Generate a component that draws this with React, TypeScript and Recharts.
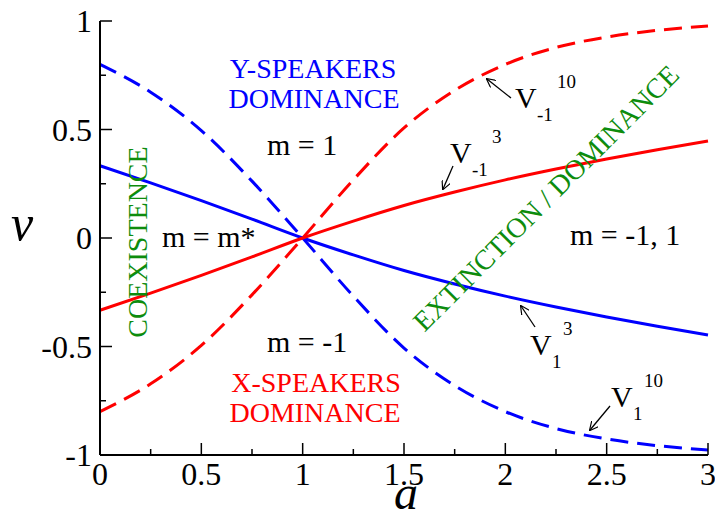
import React, { useEffect, useState } from "react";
import { LineChart, Line, XAxis, YAxis } from "recharts";

const aValues = [0, 0.25, 0.5, 0.75, 1, 1.25, 1.5, 1.75, 2, 2.25, 2.5, 2.75, 3];
const v1Pow3 = [0.333, 0.254, 0.172, 0.087, 0, -0.078, -0.15, -0.212, -0.268, -0.318, -0.364, -0.407, -0.447];
const vm1Pow3 = [-0.333, -0.254, -0.172, -0.087, 0, 0.078, 0.15, 0.212, 0.268, 0.318, 0.364, 0.407, 0.447];
const v1Pow10 = [0.8, 0.672, 0.495, 0.262, 0, -0.268, -0.507, -0.68, -0.8, -0.878, -0.926, -0.957, -0.977];
const vm1Pow10 = [-0.8, -0.672, -0.495, -0.262, 0, 0.268, 0.507, 0.68, 0.8, 0.878, 0.926, 0.957, 0.977];

const xTicks = [0, 0.25, 0.5, 0.75, 1, 1.25, 1.5, 1.75, 2, 2.25, 2.5, 2.75, 3];
const yTicks = [-1, -0.75, -0.5, -0.25, 0, 0.25, 0.5, 0.75, 1];

const data = aValues.map((a, i) => ({
  a,
  v1Pow3: v1Pow3[i],
  vm1Pow3: vm1Pow3[i],
  v1Pow10: v1Pow10[i],
  vm1Pow10: vm1Pow10[i],
}));

const FONT = "Liberation Serif";
const GREEN = "#0d8c0d";
const BLUE = "#0000ff";
const RED = "#ff0000";

const isMajor = (v: number) => Math.abs(v * 2 - Math.round(v * 2)) < 1e-6;

// ticks point into the plot, like the original
const BottomTick = (props: any) => {
  const { x, y, payload } = props;
  const major = isMajor(payload.value);
  return (
    <g>
      <line x1={x} x2={x} y1={y} y2={y - (major ? 12 : 6)} stroke="#000" strokeWidth={1.5} />
      {major && (
        <text x={x} y={y + 30} textAnchor="middle" fontSize={32} fontFamily={FONT} style={{ fontFamily: FONT }} fill="#000">
          {String(payload.value)}
        </text>
      )}
    </g>
  );
};

const LeftTick = (props: any) => {
  const { x, y, payload } = props;
  const major = isMajor(payload.value);
  return (
    <g>
      <line x1={x} x2={x + (major ? 12 : 6)} y1={y} y2={y} stroke="#000" strokeWidth={1.5} />
      {major && (
        <text x={x - 8} y={y + 11} textAnchor="end" fontSize={32} fontFamily={FONT} style={{ fontFamily: FONT }} fill="#000">
          {String(payload.value)}
        </text>
      )}
    </g>
  );
};

const TopTick = (props: any) => {
  const { x, y, payload } = props;
  const len = isMajor(payload.value) ? 12 : 6;
  return <line x1={x} x2={x} y1={y} y2={y + len} stroke="#000" strokeWidth={1.5} />;
};

const RightTick = (props: any) => {
  const { x, y, payload } = props;
  const len = isMajor(payload.value) ? 12 : 6;
  return <line x1={x} x2={x - len} y1={y} y2={y} stroke="#000" strokeWidth={1.5} />;
};

const Arrow = ({ x1, y1, x2, y2 }: { x1: number; y1: number; x2: number; y2: number }) => (
  <line x1={x1} y1={y1} x2={x2} y2={y2} stroke="#000" strokeWidth={1.3} markerEnd="url(#head)" />
);

// serif text helper
const T = (props: any) => <text fontFamily={FONT} style={{ fontFamily: FONT }} {...props} />;

// V with subscript and superscript
const VLabel = ({ x, y, sub, sup }: { x: number; y: number; sub: string; sup: string }) => (
  <g fill="#000">
    <T x={x} y={y} fontSize={30}>V</T>
    <T x={x + 22} y={y + 13} fontSize={19}>{sub}</T>
    <T x={x + (sub.length > 1 ? 42 : 33)} y={y - 20} fontSize={19}>{sup}</T>
  </g>
);

const Annotations = () => (
  <svg width={715} height={519} style={{ position: "absolute", left: 0, top: 0, pointerEvents: "none" }}>
    <defs>
      <marker id="head" viewBox="0 0 10 10" refX="9" refY="5" markerWidth="9" markerHeight="9" orient="auto" markerUnits="userSpaceOnUse">
        <path d="M0,0 L10,5 L0,10" fill="none" stroke="#000" strokeWidth={1.3} />
      </marker>
    </defs>

    <T x={22} y={240} textAnchor="middle" fontSize={50} fontStyle="italic">v</T>
    <T x={406} y={509} textAnchor="middle" fontSize={48} fontStyle="italic">a</T>

    <g fontSize={28} textAnchor="middle">
      <T x={313} y={78} fill={BLUE}>Y-SPEAKERS</T>
      <T x={314} y={108} fill={BLUE}>DOMINANCE</T>
      <T x={316} y={392} fill={RED}>X-SPEAKERS</T>
      <T x={315} y={422} fill={RED}>DOMINANCE</T>
      <T x={137.5} y={242} fill={GREEN} dominantBaseline="central" transform="rotate(-90 137.5 242)">
        COEXISTENCE
      </T>
      <T x={546} y={198} fill={GREEN} dominantBaseline="central" transform="rotate(-45 546 198)">
        EXTINCTION / DOMINANCE
      </T>
    </g>

    <g fontSize={30} fill="#000">
      <T x={267} y={155}>m = 1</T>
      <T x={162} y={247}>m = m*</T>
      <T x={267} y={352}>m = -1</T>
      <T x={570} y={245}>m = -1, 1</T>
    </g>

    <VLabel x={530} y={355} sub="1" sup="3" />
    <Arrow x1={535} y1={327} x2={521} y2={306} />
    <VLabel x={450} y={163} sub="-1" sup="3" />
    <Arrow x1={453} y1={166} x2={443} y2={189} />
    <VLabel x={515} y={108} sub="-1" sup="10" />
    <Arrow x1={511} y1={98} x2={487} y2={79} />
    <VLabel x={611} y={407} sub="1" sup="10" />
    <Arrow x1={610} y1={406} x2={590} y2={430} />
  </svg>
);

export default function App() {
  // remount once the serif face is loaded so text gets re-laid out with it
  const [fontKey, setFontKey] = useState(0);
  useEffect(() => {
    const fonts = (document as any).fonts;
    if (!fonts || !fonts.load) return;
    Promise.all([
      fonts.load(`32px "${FONT}"`),
      fonts.load(`italic 48px "${FONT}"`),
    ])
      .then(() => setFontKey(1))
      .catch(() => {});
  }, []);

  return (
    <div
      key={fontKey}
      style={{ position: "absolute", left: 0, top: 0, width: 715, height: 519, background: "#fff", fontFamily: FONT }}
    >
      <LineChart width={715} height={519} data={data} margin={{ top: 21, right: 7, bottom: 0, left: 0 }}>
        <XAxis
          dataKey="a"
          type="number"
          domain={[0, 3]}
          ticks={xTicks}
          interval={0}
          height={64}
          tickSize={0}
          tickMargin={0}
          tickLine={false}
          tick={<BottomTick />}
          axisLine={{ stroke: "#000", strokeWidth: 2 }}
        />
        <XAxis
          xAxisId="top"
          orientation="top"
          dataKey="a"
          type="number"
          domain={[0, 3]}
          ticks={xTicks}
          interval={0}
          height={0}
          tickSize={0}
          tickMargin={0}
          tickLine={false}
          tick={<TopTick />}
          axisLine={{ stroke: "#000", strokeWidth: 2 }}
        />
        <YAxis
          type="number"
          domain={[-1, 1]}
          ticks={yTicks}
          interval={0}
          width={100}
          tickSize={0}
          tickMargin={0}
          tickLine={false}
          tick={<LeftTick />}
          axisLine={{ stroke: "#000", strokeWidth: 2 }}
        />
        <YAxis
          yAxisId="right"
          orientation="right"
          type="number"
          domain={[-1, 1]}
          ticks={yTicks}
          interval={0}
          width={0}
          tickSize={0}
          tickMargin={0}
          tickLine={false}
          tick={<RightTick />}
          axisLine={{ stroke: "#000", strokeWidth: 2 }}
        />
        <Line type="monotone" dataKey="v1Pow10" stroke={BLUE} strokeWidth={3} strokeDasharray="18 9" dot={false} activeDot={false} isAnimationActive={false} />
        <Line type="monotone" dataKey="vm1Pow10" stroke={RED} strokeWidth={3} strokeDasharray="18 9" dot={false} activeDot={false} isAnimationActive={false} />
        <Line type="monotone" dataKey="v1Pow3" stroke={BLUE} strokeWidth={3} dot={false} activeDot={false} isAnimationActive={false} />
        <Line type="monotone" dataKey="vm1Pow3" stroke={RED} strokeWidth={3} dot={false} activeDot={false} isAnimationActive={false} />
      </LineChart>
      <Annotations />
    </div>
  );
}
